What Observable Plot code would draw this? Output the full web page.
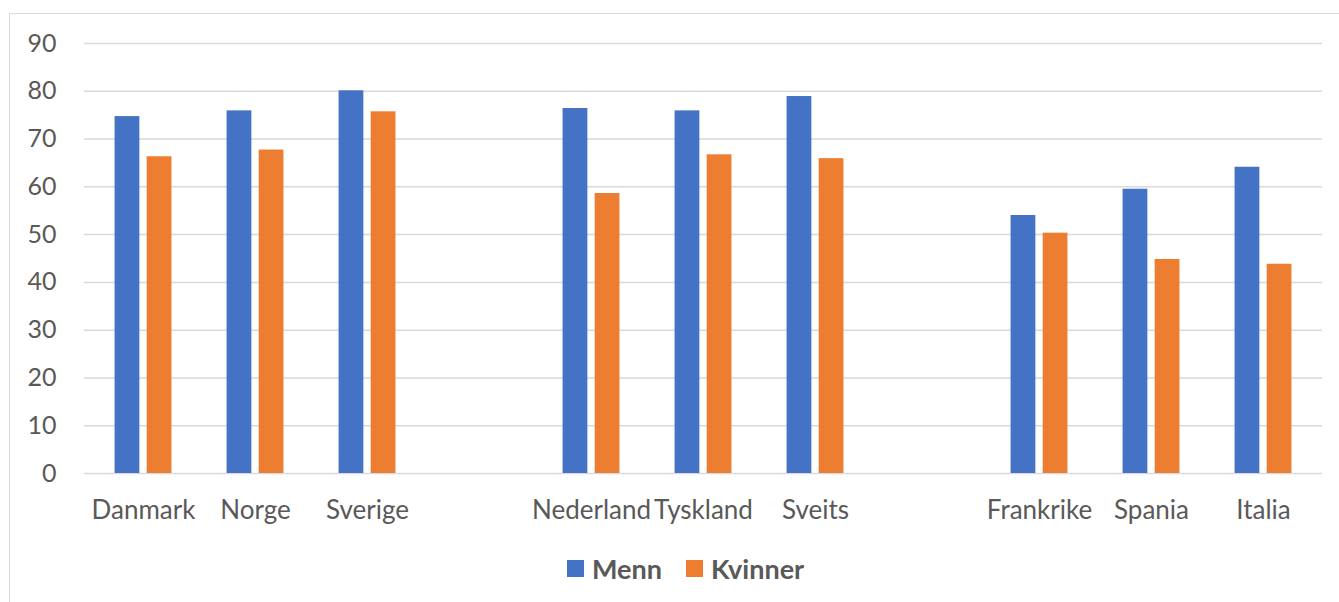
<!DOCTYPE html>
<html>
<head>
<meta charset="utf-8">
<script src="https://cdn.jsdelivr.net/npm/d3@7"></script>
<script src="https://cdn.jsdelivr.net/npm/@observablehq/plot@0.6"></script>
<style>
  html, body { margin: 0; padding: 0; background: #fff; }
  #wrap { position: relative; width: 1339px; height: 602px; overflow: hidden; font-family: Lato, "Open Sans", sans-serif; }
  #frame { position: absolute; left: 9px; top: 13px; width: 1400px; height: 700px; border: 1.5px solid #D9D9D9; box-sizing: border-box; }
  #chart { position: absolute; left: 0; top: 0; }
  #legend { position: absolute; left: 567px; top: 552px; display: flex; align-items: center; font-weight: bold; font-size: 27px; color: #595959; }
  #legend .sw { display: inline-block; width: 17px; height: 17px; margin-right: 8px; }
  #legend .item { display: flex; align-items: center; margin-right: 24px; }
</style>
</head>
<body>
<div id="wrap">
  <div id="frame"></div>
  <div id="chart"></div>
  <div id="legend"></div>
</div>
<script>
// Category slots (two empty spacer slots separate the country groups)
const slots = ["Danmark", "Norge", "Sverige", "gap1", "Nederland", "Tyskland", "Sveits", "gap2", "Frankrike", "Spania", "Italia"];
const countries = ["Danmark", "Norge", "Sverige", "Nederland", "Tyskland", "Sveits", "Frankrike", "Spania", "Italia"];
const series = ["Menn", "Kvinner"];
const colors = ["#4472C4", "#ED7D31"];
const menn    = [74.7, 75.9, 80.1, 76.4, 75.9, 78.9, 54.0, 59.5, 64.1];
const kvinner = [66.3, 67.7, 75.7, 58.6, 66.7, 65.9, 50.3, 44.8, 43.8];
const yTicks = [0, 10, 20, 30, 40, 50, 60, 70, 80, 90];

const rowsMenn = countries.map((c, i) => ({country: c, series: "Menn", value: menn[i]}));
const rowsKvinner = countries.map((c, i) => ({country: c, series: "Kvinner", value: kvinner[i]}));

const W = 1339, mL = 84, mR = 17;
const step = (W - mL - mR) / slots.length;
const barW = step * 0.225;
const gap = step * 0.06;
const inner = step / 2 - gap / 2 - barW; // distance from slot edge to outer bar edge

const plot = Plot.plot({
  width: W,
  height: 530,
  marginLeft: mL,
  marginRight: mR,
  marginTop: 43,
  marginBottom: 57,
  style: { fontFamily: "Lato, 'Open Sans', sans-serif", fontSize: "24px", color: "#595959", background: "transparent", overflow: "visible" },
  x: { domain: slots, padding: 0, label: null },
  y: { domain: [0, 90], label: null },
  color: { domain: series, range: colors },
  marks: [
    Plot.gridY(yTicks, { stroke: "#D9D9D9", strokeOpacity: 1, strokeWidth: 1.5 }),
    Plot.axisY(yTicks, { tickSize: 0, tickPadding: 28, label: null, fill: "#595959", fontSize: 25 }),
    Plot.axisX({ tickSize: 0, tickPadding: 27, label: null, fill: "#595959", fontSize: 26,
                 tickFormat: d => d.startsWith("gap") ? "" : d }),
    Plot.barY(rowsMenn, { x: "country", y: "value", fill: "series", insetLeft: inner, insetRight: step - inner - barW }),
    Plot.barY(rowsKvinner, { x: "country", y: "value", fill: "series", insetLeft: step - inner - barW, insetRight: inner })
  ]
});
document.getElementById("chart").appendChild(plot);

const legend = document.getElementById("legend");
series.forEach((s, i) => {
  const item = document.createElement("div");
  item.className = "item";
  const sw = document.createElement("span");
  sw.className = "sw";
  sw.style.background = colors[i];
  const lab = document.createElement("span");
  lab.textContent = s;
  item.appendChild(sw);
  item.appendChild(lab);
  legend.appendChild(item);
});
</script>
</body>
</html>
